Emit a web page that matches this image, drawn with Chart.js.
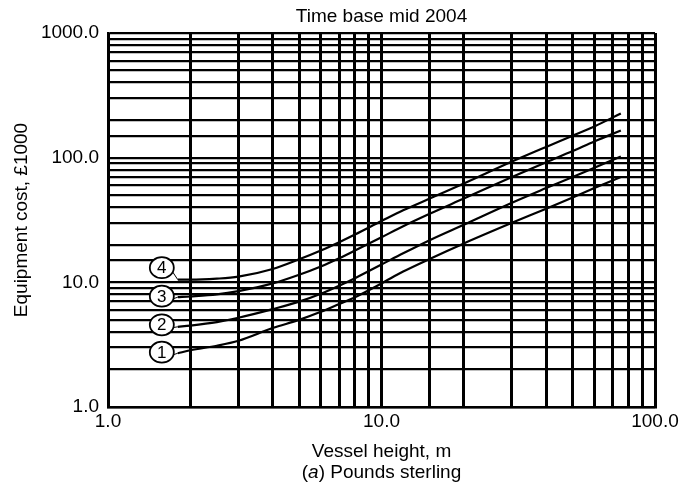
<!DOCTYPE html>
<html lang="en">
  <head>
    <meta charset="UTF-8" />
    <title>Equipment cost vs vessel height</title>
    <script src="https://cdn.jsdelivr.net/npm/chart.js"></script>
    <style>
      body { margin: 0; background: #fff; }
      .Box { width: 683px; height: 497px; }
    </style>
  </head>
  <body>
    <div class="Box"><canvas id="costChart"></canvas></div>
    <script>
      // vessel height, m
      const heights = [1.8, 2, 2.5, 3, 4, 5, 6, 7, 8, 10, 12, 15, 20, 30, 40, 50, 60, 75];
      // equipment cost, £1000
      const cost1 = [2.7, 2.85, 3.1, 3.4, 4.3, 5.0, 5.8, 6.7, 7.6, 9.8, 12.2, 15.4, 20.5, 30, 39, 48, 57, 70];
      const cost2 = [4.4, 4.5, 4.8, 5.2, 6.1, 7.0, 8.1, 9.4, 10.8, 13.9, 17.1, 21.8, 29, 43.5, 57, 70, 83, 102];
      const cost3 = [7.6, 7.7, 8.0, 8.5, 9.8, 11.5, 13.4, 15.6, 18, 23, 28.2, 35.5, 47, 70, 92, 113, 135, 165];
      const cost4 = [10.5, 10.5, 10.7, 11.1, 12.8, 15.3, 18, 21, 24.2, 31, 37.8, 47, 62, 93, 122, 150, 178, 226];
      const curveNames = ["1", "2", "3", "4"];
      const majorTicks = [1, 10, 100, 1000];

      const FONT = "'Liberation Sans', Arial, sans-serif";
      Chart.defaults.font.family = FONT;
      Chart.defaults.color = "#000";

      const series = [cost1, cost2, cost3, cost4];
      // small vertical nudge of each circled number beside its curve start
      const labelNudge = [-1, -2, -1, -12];

      const circledNumbers = {
        id: "circledNumbers",
        afterDatasetsDraw(chart) {
          const ctx = chart.ctx;
          ctx.save();
          chart.data.datasets.forEach((ds, i) => {
            const pt = chart.getDatasetMeta(i).data[0];
            const cx = pt.x - 16;
            const cy = pt.y + labelNudge[i];
            ctx.beginPath();
            ctx.moveTo(cx + 10, cy + 3);
            ctx.lineTo(pt.x, pt.y);
            ctx.strokeStyle = "#000";
            ctx.lineWidth = 1;
            ctx.stroke();
            ctx.beginPath();
            ctx.ellipse(cx, cy, 12, 10.5, 0, 0, Math.PI * 2);
            ctx.fillStyle = "#fff";
            ctx.fill();
            ctx.lineWidth = 1.8;
            ctx.stroke();
            ctx.fillStyle = "#000";
            ctx.font = "17px " + FONT;
            ctx.textAlign = "center";
            ctx.textBaseline = "middle";
            ctx.fillText(ds.label, cx, cy + 1);
          });
          ctx.restore();
        },
      };

      // title over the plot area, caption with italic (a) under the axis title
      const texts = {
        id: "texts",
        afterDraw(chart) {
          const ctx = chart.ctx;
          const area = chart.chartArea;
          const mid = (area.left + area.right) / 2;
          ctx.save();
          ctx.textBaseline = "middle";
          ctx.textAlign = "left";
          ctx.fillStyle = "#000";
          ctx.font = "19px " + FONT;
          const tw = ctx.measureText("Time base mid 2004").width;
          ctx.fillText("Time base mid 2004", mid - tw / 2, 17);

          const parts = [
            ["(", "19px "],
            ["a", "italic 19px "],
            [") Pounds sterling", "19px "],
          ];
          let total = 0;
          parts.forEach((p) => {
            ctx.font = p[1] + FONT;
            total += ctx.measureText(p[0]).width;
          });
          let x = mid - total / 2;
          parts.forEach((p) => {
            ctx.font = p[1] + FONT;
            ctx.fillText(p[0], x, 473);
            x += ctx.measureText(p[0]).width;
          });
          ctx.restore();
        },
      };

      const fmtTick = (v) => (majorTicks.includes(v) ? v.toFixed(1) : "");

      new Chart(document.getElementById("costChart"), {
        type: "scatter",
        data: {
          datasets: series.map((vals, i) => ({
            label: curveNames[i],
            data: heights.map((h, j) => ({ x: h, y: vals[j] })),
            showLine: true,
            borderColor: "#000",
            borderWidth: 2.2,
            pointRadius: 0,
            cubicInterpolationMode: "monotone",
          })),
        },
        options: {
          responsive: true,
          maintainAspectRatio: false,
          animation: false,
          layout: { padding: { left: 0, right: 28, top: 33, bottom: 30 } },
          plugins: {
            legend: { display: false },
            tooltip: { enabled: false },
          },
          scales: {
            x: {
              type: "logarithmic",
              min: 1,
              max: 100,
              afterFit: (s) => { s.height = 60; },
              grid: { color: "#000", lineWidth: 3, drawTicks: false },
              border: { color: "#000", width: 2.6 },
              ticks: { autoSkip: false, maxRotation: 0, padding: 3, font: { size: 19 }, callback: fmtTick },
              title: { display: true, text: "Vessel height, m", font: { size: 19 }, padding: { top: 0, bottom: 4 } },
            },
            y: {
              type: "logarithmic",
              min: 1,
              max: 1000,
              afterFit: (s) => { s.width = 108; },
              grid: { color: "#000", lineWidth: 2.3, drawTicks: false },
              border: { color: "#000", width: 2.6 },
              ticks: { autoSkip: false, padding: 9, font: { size: 19 }, callback: fmtTick },
              title: { display: true, text: "Equipment cost, £1000", font: { size: 19 }, padding: { top: 10, bottom: 0 } },
            },
          },
        },
        plugins: [circledNumbers, texts],
      });
    </script>
  </body>
</html>
